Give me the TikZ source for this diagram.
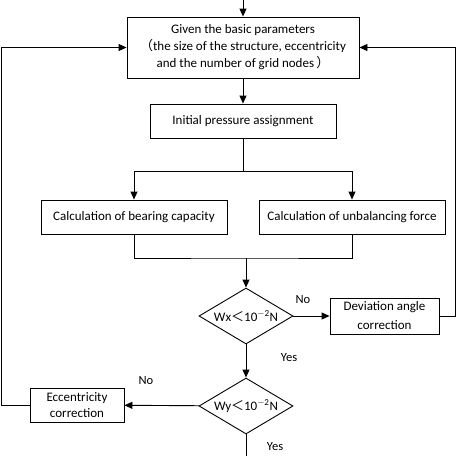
\documentclass[tikz,border=0pt]{standalone}
\usepackage{fontspec}
\setmainfont{Carlito}
\newfontfamily\cjk{Noto Sans CJK SC}
\usetikzlibrary{arrows.meta,shapes.geometric}
\newcommand*\tolN{{\cjk ＜}10\textsuperscript{$-$2}N}

\begin{document}
\begin{tikzpicture}[x=1pt,y=-1pt,line width=0.9pt,
				box/.style={draw,minimum height=34pt,inner sep=1pt,align=center,font=\fontsize{13}{17}\selectfont},
				cond/.style={draw,diamond,aspect=1.68,minimum width=94pt,minimum height=56pt,inner sep=0pt,font=\fontsize{13}{15}\selectfont},
				arr/.style={-{Triangle[length=8pt,width=7pt]}},
				lbl/.style={font=\fontsize{12.5}{15}\selectfont}]
				\useasboundingbox (0,0) rectangle (456,456);
				\node[box,minimum width=232pt,minimum height=61pt] (given) at (243,47.5) {Given the basic parameters\\{\cjk （}the size of the structure, eccentricity\\and the number of grid nodes\,{\cjk ）}};
				\node[box,minimum width=186pt] (init) at (243,121) {Initial pressure assignment};
				\node[box,minimum width=186pt] (bear) at (134,217) {Calculation of bearing capacity};
				\node[box,minimum width=186pt] (unbal) at (352,217) {Calculation of unbalancing force};
				\node[cond] (wx) at (246,316) {Wx\tolN};
				\node[cond] (wy) at (246,406) {Wy\tolN};
				\node[box,minimum width=109pt,minimum height=36pt,font=\fontsize{13}{19}\selectfont] (dev) at (384.5,316) {Deviation angle\\correction};
				\node[box,minimum width=94pt,font=\fontsize{13}{16}\selectfont] (ecc) at (77,405) {Eccentricity\\correction};
				\coordinate (start) at (243,0);
				\coordinate (split) at (243,171);
				\coordinate (join) at (246,258);
				\coordinate (stop) at (246,456);
				% main line
				\draw[arr] (start) -- (given);
				\draw[arr] (given) -- (init);
				\draw (init) -- (split);
				\draw[arr] (split) -| (bear);
				\draw[arr] (split) -| (unbal);
				\draw (bear) |- (join) -| (unbal);
				\draw[arr] (join) -- (wx);
				\draw[arr] (wx) -- (wy);
				\draw (wy) -- (stop);
				% loops back
				\draw[arr] (wx) -- (dev);
				\draw[arr] (dev.east) -- ++(16,0) |- (given.east);
				\draw[arr] (wy) -- (ecc);
				\draw[arr] (ecc.west) -- ++(-28,0) |- (given.west);
				% labels
				\node[lbl] (nox) at (303,300) {No};
				\node[lbl] (yesx) at (289,358) {Yes};
				\node[lbl] (noy) at (146,381) {No};
				\node[lbl] (yesy) at (275,447) {Yes};
\end{tikzpicture}
\end{document}
